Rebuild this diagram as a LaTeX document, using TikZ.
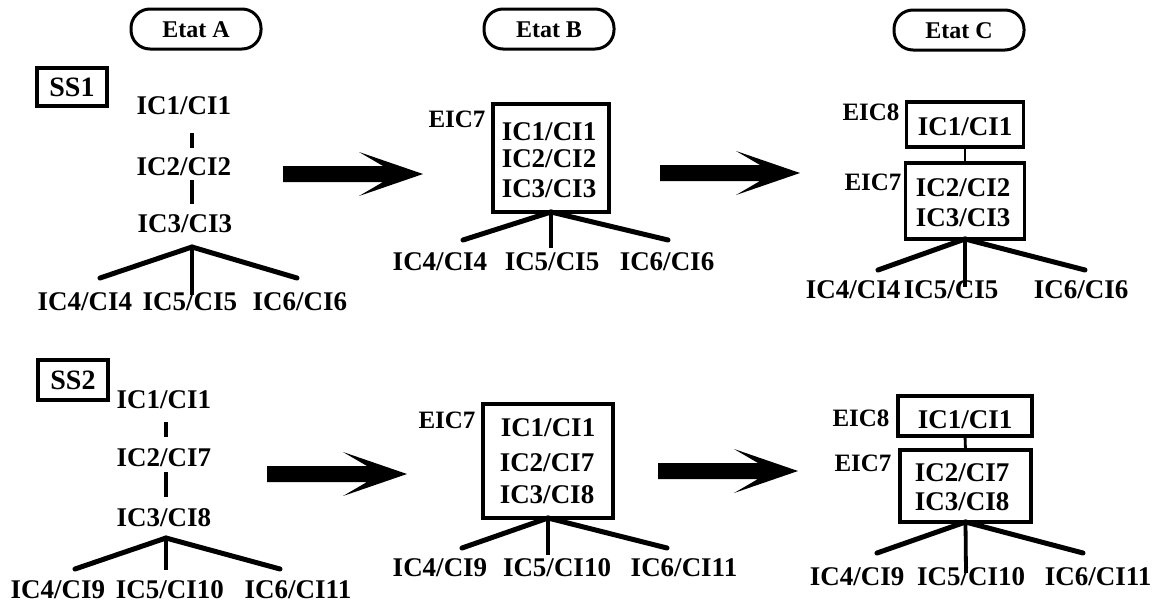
\documentclass[tikz,border=0pt]{standalone}
\usepackage{fontspec}
\setmainfont{Liberation Serif}
\begin{document}
\begin{tikzpicture}[x=1pt,y=-1pt,
  ic/.style={font=\fontsize{27}{30}\selectfont\bfseries, inner sep=0pt, outer sep=0pt, text height=17.5pt, text depth=0pt},
  eic/.style={font=\fontsize{25}{28}\selectfont\bfseries, inner sep=0pt, text height=16.5pt, text depth=0pt},
  boxn/.style={draw, line width=3.3pt, inner sep=0pt, outer sep=0pt},
  etat/.style={draw, line width=3pt, rounded corners=19pt, minimum width=130pt, minimum height=40pt, inner sep=0pt, outer sep=0pt, font=\fontsize{24}{26}\selectfont\bfseries, text height=16pt, text depth=0pt},
  ssbox/.style={draw, line width=3.3pt, minimum width=70pt, minimum height=38pt, inner sep=0pt, font=\fontsize{28}{30}\selectfont\bfseries, text height=18pt, text depth=0pt},
  fan/.style={line width=5pt, line cap=round},
  midline/.style={line width=3.8pt},
  vline/.style={line width=3.3pt},
  link/.style={line width=2.8pt},
  bigarrow/.pic={\fill (0,8) -- (100,8) -- (76,22) -- (140,0) -- (76,-22) -- (100,-8) -- (0,-8) -- cycle;}
]
\fill[white] (0,0) rectangle (1164,606);
\useasboundingbox (0,0) rectangle (1164,606);

% headers
\node[etat] (eA) at (196,29) {Etat A};
\node[etat] (eB) at (549,29) {Etat B};
\node[etat] (eC) at (959,30) {Etat C};
\node[ssbox] (ss1) at (72,87) {SS1};
\node[ssbox, minimum height=40pt] (ss2) at (73,380) {SS2};

% arrows
\pic at (283,174) {bigarrow};
\pic at (660,173) {bigarrow};
\pic at (267,474) {bigarrow};
\pic at (658,471) {bigarrow};

% ===== top, Etat A
\node[ic] (a1) at (184,106) {IC1/CI1};
\node[ic] (a2) at (184,167) {IC2/CI2};
\node[ic] (a3) at (185,224) {IC3/CI3};
\draw[vline, shorten <=18.5pt, shorten >=10.5pt] ([xshift=8pt]a1.south) -- ([xshift=8pt]a2.north);
\draw[vline, shorten <=4.5pt, shorten >=11.5pt] ([xshift=8pt]a2.south) -- ([xshift=7pt]a3.north);
\coordinate (fA) at (192,247);
\coordinate (a4e) at (100,278);
\coordinate (a5e) at (192,295);
\coordinate (a6e) at (297,278);
\draw[fan] (fA) -- (a4e);
\draw[fan] (fA) -- (a6e);
\draw[midline] (fA) -- (a5e);
\node[ic] (a4) at (85,302) {IC4/CI4};
\node[ic] (a5) at (190,302) {IC5/CI5};
\node[ic] (a6) at (300,302) {IC6/CI6};

% ===== top, Etat B
\node[boxn, minimum width=116pt, minimum height=108pt] (bx) at (551,158) {};
\node[ic] (b1) at (549,132) {IC1/CI1};
\node[ic] (b2) at (549,159) {IC2/CI2};
\node[ic] (b3) at (549,189) {IC3/CI3};
\node[eic] (bl) at (457,119) {EIC7};
\coordinate (b4e) at (463,240);
\coordinate (b5e) at (551,248);
\coordinate (b6e) at (668,240);
\draw[fan] (bx.south) -- (b4e);
\draw[fan] (bx.south) -- (b6e);
\draw[midline] (bx.south) -- (b5e);
\node[ic] (b4) at (440,262) {IC4/CI4};
\node[ic] (b5) at (552,262) {IC5/CI5};
\node[ic] (b6) at (667,262) {IC6/CI6};

% ===== top, Etat C
\node[boxn, minimum width=117pt, minimum height=45pt] (c8) at (965,124.5) {};
\node[ic] (c1) at (965,127) {IC1/CI1};
\node[eic] (c8l) at (871,112) {EIC8};
\node[boxn, minimum width=119pt, minimum height=76pt] (c7) at (965,201) {};
\node[ic] (c2) at (963,188) {IC2/CI2};
\node[ic] (c3) at (963,218) {IC3/CI3};
\node[eic] (c7l) at (873,182) {EIC7};
\draw[link] (c8.south) -- (c7.north);
\coordinate (c4e) at (878,270);
\coordinate (c5e) at (965,287);
\coordinate (c6e) at (1085,270);
\draw[fan] (c7.south) -- (c4e);
\draw[fan] (c7.south) -- (c6e);
\draw[midline] (c7.south) -- (c5e);
\node[ic] (c4) at (853,290) {IC4/CI4};
\node[ic] (c5) at (951,290) {IC5/CI5};
\node[ic] (c6) at (1081,290) {IC6/CI6};

% ===== bottom, Etat A
\node[ic] (d1) at (164,400) {IC1/CI1};
\node[ic] (d2) at (164,458) {IC2/CI7};
\node[ic] (d3) at (164,518) {IC3/CI8};
\draw[vline, shorten <=13.5pt, shorten >=12.5pt] ([xshift=2pt]d1.south) -- ([xshift=2pt]d2.north);
\draw[vline, shorten <=5.5pt, shorten >=12.5pt] ([xshift=2pt]d2.south) -- ([xshift=2pt]d3.north);
\coordinate (fD) at (166,538);
\coordinate (d4e) at (75,569);
\coordinate (d5e) at (166,570);
\coordinate (d6e) at (280,569);
\draw[fan] (fD) -- (d4e);
\draw[fan] (fD) -- (d6e);
\draw[midline] (fD) -- (d5e);
\node[ic] (d4) at (58,590) {IC4/CI9};
\node[ic] (d5) at (170,590) {IC5/CI10};
\node[ic] (d6) at (298,590) {IC6/CI11};

% ===== bottom, Etat B
\node[boxn, minimum width=130pt, minimum height=114pt] (ex) at (548,461) {};
\node[ic] (e1) at (548,428) {IC1/CI1};
\node[ic] (e2) at (547,463) {IC2/CI7};
\node[ic] (e3) at (547,495) {IC3/CI8};
\node[eic] (el) at (447,420) {EIC7};
\coordinate (e4e) at (462,548);
\coordinate (e5e) at (548,555);
\coordinate (e6e) at (667,548);
\draw[fan] (ex.south) -- (e4e);
\draw[fan] (ex.south) -- (e6e);
\draw[midline] (ex.south) -- (e5e);
\node[ic] (e4) at (440,568) {IC4/CI9};
\node[ic] (e5) at (557,568) {IC5/CI10};
\node[ic] (e6) at (684,568) {IC6/CI11};

% ===== bottom, Etat C
\node[boxn, minimum width=134pt, minimum height=40pt] (f8) at (965,416) {};
\node[ic] (f1) at (965,420) {IC1/CI1};
\node[eic] (f8l) at (861,418) {EIC8};
\node[boxn, minimum width=131pt, minimum height=72pt] (f7) at (965.5,486) {};
\node[ic] (f2) at (962,473) {IC2/CI7};
\node[ic] (f3) at (962,502) {IC3/CI8};
\node[eic] (f7l) at (863,463) {EIC7};
\draw[link] (f8.south) -- (f7.north);
\coordinate (f4e) at (877,553);
\coordinate (f5e) at (966,573);
\coordinate (f6e) at (1083,553);
\draw[fan] (f7.south) -- (f4e);
\draw[fan] (f7.south) -- (f6e);
\draw[midline] (f7.south) -- (f5e);
\node[ic] (f4) at (857,577) {IC4/CI9};
\node[ic] (f5) at (971,577) {IC5/CI10};
\node[ic] (f6) at (1098,577) {IC6/CI11};
\end{tikzpicture}
\end{document}
